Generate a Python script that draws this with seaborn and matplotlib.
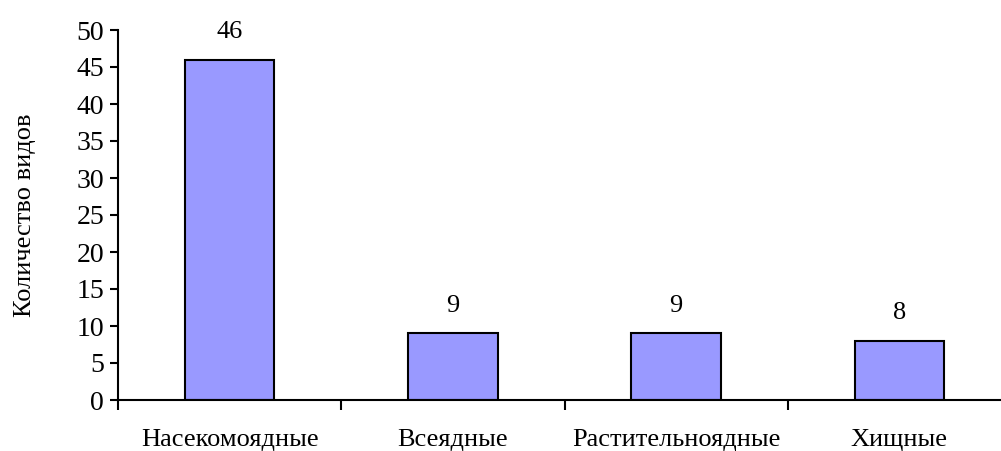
import matplotlib
matplotlib.use("Agg")
import matplotlib.pyplot as plt
import seaborn as sns
import pandas as pd
import numpy as np
from matplotlib.ticker import FixedLocator

categories = ["Насекомоядные", "Всеядные", "Растительноядные", "Хищные"]
values = [46, 9, 9, 8]
yticks = [0, 5, 10, 15, 20, 25, 30, 35, 40, 45, 50]
ylabel = "Количество видов"

sns.set_style("white")
plt.rcParams['font.family'] = ['Liberation Serif', 'DejaVu Serif']
plt.rcParams['text.color'] = 'black'
plt.rcParams['axes.labelcolor'] = 'black'
FS = 19

W, H = 1001, 451
fig = plt.figure(figsize=(W / 100, H / 100), dpi=100)
ax = fig.add_axes([118 / W, (H - 400) / H, (1011 - 118) / W, (400 - 30) / H])

df = pd.DataFrame({"cat": categories, "val": values})
sns.barplot(data=df, x="cat", y="val", ax=ax, color="#9999FF", saturation=1,
            width=0.4, edgecolor="black", linewidth=1.5)

ax.set_xlim(-0.5, 3.5)
ax.set_ylim(0, 50)
ax.set_yticks(yticks)
ax.set_xlabel("")
ax.set_ylabel(ylabel, fontsize=FS, labelpad=29, color="black")

for s in ["top", "right"]:
    ax.spines[s].set_visible(False)
for s in ["left", "bottom"]:
    ax.spines[s].set_linewidth(1.5)
    ax.spines[s].set_color("black")

ax.tick_params(axis="y", direction="out", length=6, width=1.5, colors="black", labelsize=FS + 1, pad=4, left=True)
ax.tick_params(axis="x", which="major", length=0, pad=21, labelsize=FS, colors="black")
ax.xaxis.set_minor_locator(FixedLocator([-0.5, 0.5, 1.5, 2.5, 3.5]))
ax.tick_params(axis="x", which="minor", direction="out", length=7, width=1.5, color="black", bottom=True)

for c in ax.containers:
    ax.bar_label(c, labels=[str(v) for v in values], padding=12, fontsize=FS, color="black")

fig.savefig("out.png", dpi=100)
